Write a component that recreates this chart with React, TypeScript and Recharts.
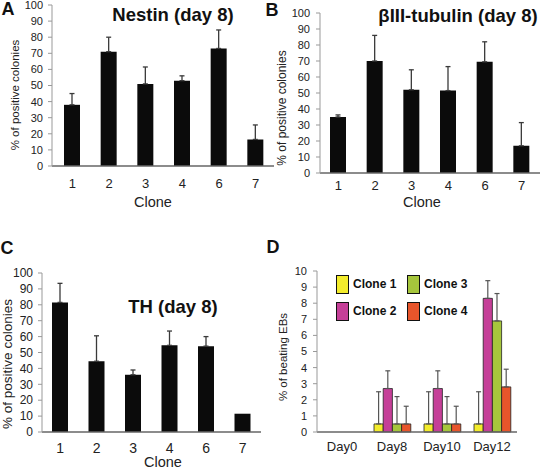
import { BarChart, Bar, XAxis, YAxis, ErrorBar } from "recharts";

const clones = ["1", "2", "3", "4", "6", "7"];
const nestinMean = [38, 71, 51, 53, 73, 16.5];
const nestinErr = [7, 9, 10.5, 3, 11.5, 9];
const tubulinMean = [35, 70, 52, 51.5, 69.5, 17];
const tubulinErr = [1.3, 16, 12.5, 15, 12.5, 14.5];
const thMean = [81.5, 44.5, 36, 54.5, 54, 11.5];
const thErr = [12, 16, 3, 9, 6, 0];
const pctTicks = [0, 10, 20, 30, 40, 50, 60, 70, 80, 90, 100];

const days = ["Day0", "Day8", "Day10", "Day12"];
const clone1 = [0, 0.5, 0.5, 0.5];
const clone1Err = [0, 2, 2, 2];
const clone2 = [0, 2.7, 2.7, 8.3];
const clone2Err = [0, 1.1, 1.1, 1.1];
const clone3 = [0, 0.5, 0.5, 6.9];
const clone3Err = [0, 1.7, 1.7, 1.7];
const clone4 = [0, 0.5, 0.5, 2.8];
const clone4Err = [0, 1.1, 1.1, 1.1];
const beatTicks = [0, 1, 2, 3, 4, 5, 6, 7, 8, 9, 10];

const CLONE_COLORS = ["#f3ec2c", "#c53f98", "#a6c63c", "#e8552b"];
const FONT = "'Liberation Sans', Arial, sans-serif";

const upErr = (e: number) => (e > 0 ? [0, e] : null);

const cloneRows = (mean: number[], err: number[]) =>
  clones.map((c, i) => ({ clone: c, mean: mean[i], err: upErr(err[i]) }));

const beatRows = days.map((d, i) => ({
  day: d,
  c1: clone1[i],
  e1: upErr(clone1Err[i] * (clone1[i] > 0 ? 1 : 0)),
  c2: clone2[i],
  e2: upErr(clone2Err[i] * (clone2[i] > 0 ? 1 : 0)),
  c3: clone3[i],
  e3: upErr(clone3Err[i] * (clone3[i] > 0 ? 1 : 0)),
  c4: clone4[i],
  e4: upErr(clone4Err[i] * (clone4[i] > 0 ? 1 : 0)),
}));

// rotated y label placed at absolute chart coords
const yLabel = (text: string, cx: number, cy: number, size: number) => () =>
  (
    <text
      x={cx}
      y={cy}
      transform={`rotate(-90, ${cx}, ${cy})`}
      textAnchor="middle"
      dominantBaseline="central"
      fontSize={size}
      fill="#222"
      fontFamily={FONT}
    >
      {text}
    </text>
  );

const xLabel = (text: string, cx: number, top: number, size: number) => () =>
  (
    <text x={cx} y={top} dy="0.72em" textAnchor="middle" fontSize={size} fill="#222" fontFamily={FONT}>
      {text}
    </text>
  );

type PanelProps = {
  left: number;
  top: number;
  width: number;
  margin: { top: number; right: number; left: number; bottom: number };
  yWidth: number;
  xHeight: number;
  padLeft: number;
  mean: number[];
  err: number[];
  tickSize: number;
  xTickMargin: number;
  yTickMargin: number;
  yLab: [number, number, number];
  xLab: [number, number, number];
};

function ClonePanel(p: PanelProps) {
  return (
    <div style={{ position: "absolute", left: p.left, top: p.top }}>
      <BarChart width={p.width} height={235} data={cloneRows(p.mean, p.err)} margin={p.margin}>
        <XAxis
          dataKey="clone"
          height={p.xHeight}
          padding={{ left: p.padLeft, right: 0 }}
          tickLine={false}
          tickSize={0}
          tickMargin={p.xTickMargin}
          axisLine={{ stroke: "#666", strokeWidth: 1.5 }}
          tick={{ fontSize: p.tickSize + 2, fill: "#222", fontFamily: FONT }}
          label={xLabel("Clone", p.xLab[0], p.xLab[1], p.xLab[2])}
        />
        <YAxis
          domain={[0, 100]}
          ticks={pctTicks}
          width={p.yWidth}
          interval={0}
          tickSize={4}
          tickMargin={p.yTickMargin}
          axisLine={{ stroke: "#999" }}
          tickLine={{ stroke: "#999" }}
          tick={{ fontSize: p.tickSize, fill: "#222", fontFamily: FONT }}
          label={yLabel("% of positive colonies", p.yLab[0], p.yLab[1], p.yLab[2])}
        />
        <Bar dataKey="mean" fill="#0b0b0b" barSize={16} isAnimationActive={false}>
          <ErrorBar dataKey="err" width={2.5} stroke="#3a3a3a" strokeWidth={1.3} direction="y" />
        </Bar>
      </BarChart>
    </div>
  );
}

const legendItems = [
  { name: "Clone 1", color: CLONE_COLORS[0] },
  { name: "Clone 3", color: CLONE_COLORS[2] },
  { name: "Clone 2", color: CLONE_COLORS[1] },
  { name: "Clone 4", color: CLONE_COLORS[3] },
];

function BeatLegend() {
  return (
    <div
      style={{
        position: "absolute",
        left: 336,
        top: 274,
        display: "grid",
        gridTemplateColumns: "71px 80px",
        rowGap: 7,
        fontFamily: FONT,
        fontWeight: "bold",
        fontSize: 12,
        color: "#111",
      }}
    >
      {legendItems.map((it) => (
        <div key={it.name} style={{ display: "flex", alignItems: "center", height: 20 }}>
          <span
            style={{
              display: "inline-block",
              width: 11,
              height: 17,
              background: it.color,
              border: "1.5px solid #111",
              marginRight: 4,
            }}
          />
          {it.name}
        </div>
      ))}
    </div>
  );
}

function Title({ text, cx, cy, size }: { text: string; cx: number; cy: number; size: number }) {
  return (
    <div
      style={{
        position: "absolute",
        left: cx - 120,
        width: 240,
        top: cy - size / 2,
        lineHeight: `${size}px`,
        textAlign: "center",
        fontFamily: FONT,
        fontWeight: "bold",
        fontSize: size,
        color: "#111",
        whiteSpace: "nowrap",
      }}
    >
      {text}
    </div>
  );
}

export default function App() {
  return (
    <div style={{ position: "absolute", left: 0, top: 0, width: 540, height: 470, background: "#fff", overflow: "hidden" }}>
      <ClonePanel
        left={0}
        top={0}
        width={275}
        margin={{ top: 5, right: 1, left: 0, bottom: 0 }}
        yWidth={52}
        xHeight={69}
        padLeft={2}
        mean={nestinMean}
        err={nestinErr}
        tickSize={11}
        xTickMargin={13}
        yTickMargin={5}
        yLab={[15, 95, 11.5]}
        xLab={[153, 197, 14.5]}
      />
      <ClonePanel
        left={270}
        top={0}
        width={270}
        margin={{ top: 13, right: 0, left: 0, bottom: 0 }}
        yWidth={50}
        xHeight={62}
        padLeft={0}
        mean={tubulinMean}
        err={tubulinErr}
        tickSize={11}
        xTickMargin={8}
        yTickMargin={6}
        yLab={[12, 108, 12]}
        xLab={[152, 197, 14.5]}
      />
      <ClonePanel
        left={0}
        top={235}
        width={270}
        margin={{ top: 38, right: 9, left: 0, bottom: 0 }}
        yWidth={42}
        xHeight={38}
        padLeft={0}
        mean={thMean}
        err={thErr}
        tickSize={12}
        xTickMargin={11}
        yTickMargin={5}
        yLab={[7, 129, 13.5]}
        xLab={[163, 222, 14.5]}
      />

      <div style={{ position: "absolute", left: 270, top: 235 }}>
        <BarChart width={270} height={235} data={beatRows} margin={{ top: 36, right: 23, left: 0, bottom: 0 }} barGap={0}>
          <XAxis
            dataKey="day"
            height={38}
            tickLine={false}
            tickSize={0}
            tickMargin={10}
            axisLine={{ stroke: "#666", strokeWidth: 1.5 }}
            tick={{ fontSize: 13, fill: "#222", fontFamily: FONT }}
          />
          <YAxis
            domain={[0, 10]}
            ticks={beatTicks}
            width={47}
            interval={0}
            tickSize={4}
            tickMargin={6}
            axisLine={{ stroke: "#999" }}
            tickLine={{ stroke: "#999" }}
            tick={{ fontSize: 11, fill: "#222", fontFamily: FONT }}
            label={yLabel("% of beating EBs", 13, 122, 11.5)}
          />
          <Bar dataKey="c1" name="Clone 1" fill={CLONE_COLORS[0]} stroke="#222" strokeWidth={0.8} barSize={9.2} isAnimationActive={false}>
            <ErrorBar dataKey="e1" width={2.5} stroke="#555" strokeWidth={1.2} direction="y" />
          </Bar>
          <Bar dataKey="c2" name="Clone 2" fill={CLONE_COLORS[1]} stroke="#222" strokeWidth={0.8} barSize={9.2} isAnimationActive={false}>
            <ErrorBar dataKey="e2" width={2.5} stroke="#555" strokeWidth={1.2} direction="y" />
          </Bar>
          <Bar dataKey="c3" name="Clone 3" fill={CLONE_COLORS[2]} stroke="#222" strokeWidth={0.8} barSize={9.2} isAnimationActive={false}>
            <ErrorBar dataKey="e3" width={2.5} stroke="#555" strokeWidth={1.2} direction="y" />
          </Bar>
          <Bar dataKey="c4" name="Clone 4" fill={CLONE_COLORS[3]} stroke="#222" strokeWidth={0.8} barSize={9.2} isAnimationActive={false}>
            <ErrorBar dataKey="e4" width={2.5} stroke="#555" strokeWidth={1.2} direction="y" />
          </Bar>
        </BarChart>
      </div>
      <BeatLegend />

      <Title text="Nestin (day 8)" cx={173} cy={15} size={18.5} />
      <Title text="βIII-tubulin (day 8)" cx={458} cy={16} size={18.5} />
      <Title text="TH (day 8)" cx={173} cy={307} size={18.5} />

      <Title text="A" cx={8} cy={9} size={18} />
      <Title text="B" cx={272} cy={10} size={18} />
      <Title text="C" cx={7} cy={248} size={18} />
      <Title text="D" cx={273} cy={247} size={18} />
    </div>
  );
}
